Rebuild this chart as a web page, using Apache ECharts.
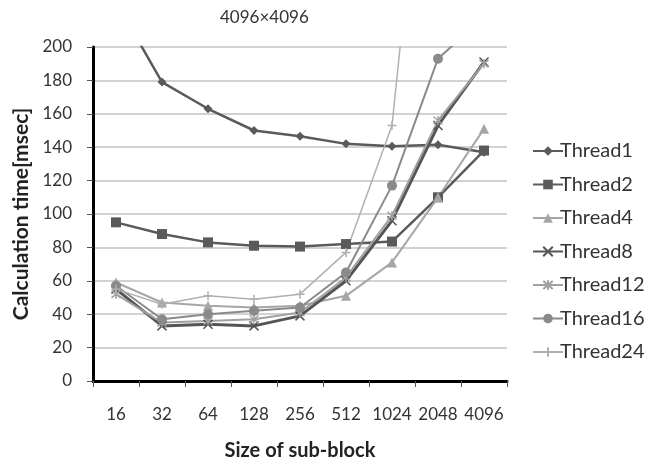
<!DOCTYPE html>
<html>
<head>
<meta charset="utf-8">
<script src="https://cdn.jsdelivr.net/npm/echarts@6/dist/echarts.min.js"></script>
<style>
  html, body { margin: 0; padding: 0; background: #fff; }
  #chart { width: 650px; height: 471px; }
</style>
</head>
<body>
<div id="chart"></div>
<script>
// 数据
var sizes = ['16', '32', '64', '128', '256', '512', '1024', '2048', '4096'];
var thread1 = [227, 179, 163, 150, 146.5, 142, 140.5, 141.5, 137];
var thread2 = [95, 88, 83, 81, 80.5, 82, 83.5, 110, 138];
var thread4 = [59, 47, 45, 44, 45, 51, 71, 110, 151];
var thread8 = [55, 33, 34, 33, 39, 60, 96, 153, 191];
var thread12 = [52, 35, 36, 37, 41, 62, 99, 156, 190];
var thread16 = [57, 37, 40, 42, 44, 65, 117, 193, 218];
var thread24 = [55, 46, 51, 49, 52, 77, 153, 420, 800];
var yTicks = [0, 20, 40, 60, 80, 100, 120, 140, 160, 180, 200];

var FONT = 'Lato';
var SYM_X = 'path://M0,0L10,10M10,0L0,10';
var SYM_STAR = 'path://M0,0L10,10M10,0L0,10M5,-1L5,11';
var SYM_PLUS = 'path://M5,0L5,10M0,5L10,5';

function mkSeries(name, data, color, symbol, size, width, stroked) {
    return {
        name: name,
        type: 'line',
        data: data,
        symbol: symbol,
        symbolSize: size,
        showAllSymbol: true,
        clip: true,
        lineStyle: { color: color, width: width },
        itemStyle: stroked
            ? { color: color, borderColor: color, borderWidth: 1.5 }
            : { color: color, borderWidth: 0 },
        emphasis: { disabled: true }
    };
}

(function() {
    var myChart = echarts.init(document.getElementById('chart'));

    var option = {
        animation: false,
        title: {
            text: '4096×4096',
            left: 215,
            top: 4,
            textStyle: { fontFamily: FONT, fontSize: 17, fontWeight: 'normal', color: '#333' }
        },
        legend: {
            orient: 'vertical',
            left: 527,
            top: 136,
            itemWidth: 30,
            itemHeight: 12,
            itemGap: 13.5,
            textStyle: { fontFamily: FONT, fontSize: 20, color: '#333', padding: [0, 0, 0, -8] },
            data: ['Thread1', 'Thread2', 'Thread4', 'Thread8', 'Thread12', 'Thread16', 'Thread24']
        },
        grid: {
            left: 93,
            right: 143,
            top: 47,
            bottom: 90
        },
        xAxis: {
            type: 'category',
            data: sizes,
            boundaryGap: true,
            name: 'Size of sub-block',
            nameLocation: 'middle',
            nameGap: 60,
            nameTextStyle: { fontFamily: FONT, fontSize: 20, fontWeight: 'bold', color: '#222' },
            axisLine: { lineStyle: { color: '#000', width: 3 } },
            axisTick: { show: true, length: 6, interval: 0, lineStyle: { color: '#555', width: 1 } },
            axisLabel: { fontFamily: FONT, fontSize: 17, color: '#333', margin: 25, interval: 0, hideOverlap: false },
            splitLine: { show: false }
        },
        yAxis: {
            type: 'value',
            min: yTicks[0],
            max: yTicks[yTicks.length - 1],
            interval: 20,
            name: 'Calculation time[msec]',
            nameLocation: 'middle',
            nameGap: 61,
            nameTextStyle: { fontFamily: FONT, fontSize: 21, fontWeight: 'bold', color: '#222' },
            axisLine: { show: true, lineStyle: { color: '#000', width: 3 } },
            axisTick: { show: true, length: 6, lineStyle: { color: '#555', width: 1 } },
            axisLabel: { fontFamily: FONT, fontSize: 17, color: '#333', margin: 21 },
            splitLine: { lineStyle: { color: '#d2d2d2', width: 2 } }
        },
        series: [
            mkSeries('Thread1', thread1, '#5a5a5a', 'diamond', 9, 2.5, false),
            mkSeries('Thread2', thread2, '#5a5a5a', 'rect', 10, 2.5, false),
            mkSeries('Thread4', thread4, '#a6a6a6', 'triangle', 10, 2, false),
            mkSeries('Thread8', thread8, '#555555', SYM_X, 9, 3, true),
            mkSeries('Thread12', thread12, '#a0a0a0', SYM_STAR, 9, 2, true),
            mkSeries('Thread16', thread16, '#8a8a8a', 'circle', 10, 2, false),
            mkSeries('Thread24', thread24, '#b0b0b0', SYM_PLUS, 9, 1.5, true)
        ]
    };

    myChart.setOption(option);

    window.addEventListener('resize', function() {
        myChart.resize();
    });
})();
</script>
</body>
</html>
